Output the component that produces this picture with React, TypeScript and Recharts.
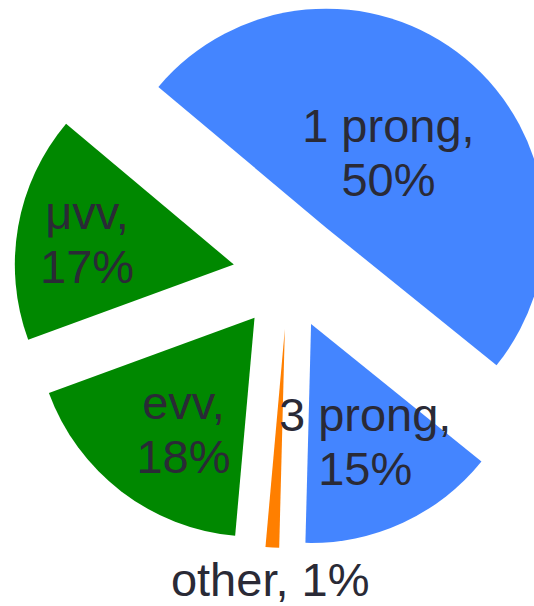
import React from 'react';
import { PieChart, Pie, Cell, Sector } from 'recharts';

// decay modes (labels are rounded)
const names = ['1 prong', '3 prong', 'other', 'evv', 'μvv'];
const shares = [49.7, 14.6, 1.0, 18.0, 16.7];
const colors = ['#4485ff', '#4485ff', '#ff7f00', '#008800', '#008800'];

const data = names.map((name, i) => ({ name, value: shares[i] }));

const RAD = Math.PI / 180;
// how far each slice is pulled out of the pie
const PULL = [60, 55, 55, 55, 55];
// label distance from the pie centre, and a small turn off the mid angle
const LABEL_R = [158, 184, 311, 187, 204];
const LABEL_TURN = [0, 0, 0, 3.5, 0];
const FONT = '"Liberation Sans", Arial, sans-serif';

const ExplodedSector = (props: any) => {
  const { cx, cy, midAngle, index } = props;
  const pull = PULL[index] ?? 55;
  const dx = pull * Math.cos(-midAngle * RAD);
  const dy = pull * Math.sin(-midAngle * RAD);
  return <Sector {...props} cx={cx + dx} cy={cy + dy} />;
};

const renderLabel = (props: any) => {
  const { cx, cy, midAngle, index, name, percent } = props;
  const r = LABEL_R[index];
  const a = midAngle + LABEL_TURN[index];
  const x = cx + r * Math.cos(-a * RAD);
  const y = cy + r * Math.sin(-a * RAD);
  const pct = `${Math.round(percent * 100)}%`;
  const common = {
    textAnchor: 'middle' as const,
    fill: '#2a2a36',
    fontSize: 47,
    fontFamily: FONT,
  };
  if (percent < 0.05) {
    return (
      <text key={`l-${index}`} x={x} y={y + 12} {...common}>
        {`${name}, ${pct}`}
      </text>
    );
  }
  return (
    <text key={`l-${index}`} x={x} y={y - 10} {...common}>
      <tspan x={x}>{`${name},`}</tspan>
      <tspan x={x} dy={54}>{pct}</tspan>
    </text>
  );
};

export default function App() {
  return (
    <div style={{ position: 'absolute', left: 0, top: 0 }}>
      <PieChart width={534} height={606} margin={{ top: 0, right: 0, bottom: 0, left: 0 }}>
        <Pie
          data={data}
          dataKey="value"
          nameKey="name"
          cx={288}
          cy={274}
          outerRadius={219}
          startAngle={140}
          endAngle={-220}
          stroke="none"
          label={renderLabel}
          labelLine={false}
          shape={ExplodedSector}
          activeShape={ExplodedSector}
          inactiveShape={ExplodedSector}
          isAnimationActive={false}
        >
          {data.map((d, i) => (
            <Cell key={d.name} fill={colors[i]} />
          ))}
        </Pie>
      </PieChart>
    </div>
  );
}
